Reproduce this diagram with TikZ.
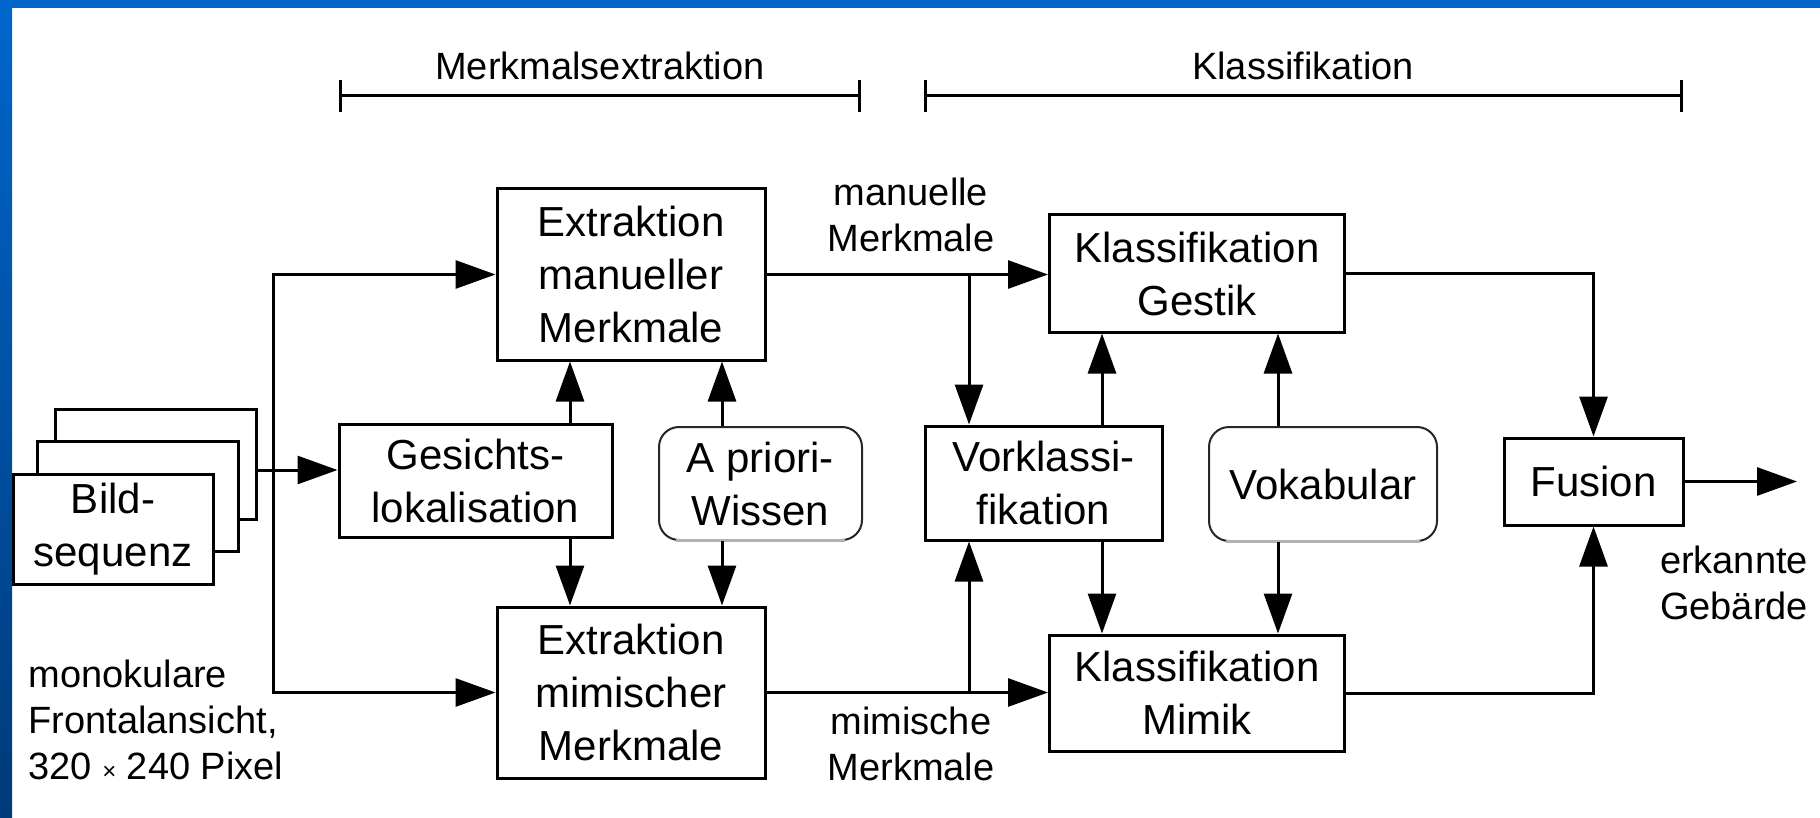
\documentclass[tikz,border=0pt]{standalone}
\usepackage{fontspec}
\setmainfont{Liberation Sans}
\usetikzlibrary{arrows.meta}
\definecolor{folienblau}{HTML}{0066CC}
\definecolor{folienblaudunkel}{HTML}{003A78}

\begin{document}
\begin{tikzpicture}[x=0.5pt, y=-0.5pt,
    box/.style={draw, line width=1.5pt, fill=white, align=center, inner sep=0pt,
                font=\fontsize{21}{26.5}\selectfont},
    rbox/.style={box, draw=black!85, line width=1pt, rounded corners=10pt},
    lbl/.style={align=center, inner sep=0pt, font=\fontsize{19}{23}\selectfont},
    pfeil/.style={-{Triangle[length=20pt,width=14pt]}, line width=1.5pt},
    klammer/.style={{Bar[width=16pt]}-{Bar[width=16pt]}, line width=1.5pt}]

  \useasboundingbox (0,0) rectangle (1820,818);
  % Folienrahmen
  \fill[folienblau] (0,0) rectangle (1820,8);
  \shade[top color=folienblau, bottom color=folienblaudunkel] (0,0) rectangle (12,818);

  % Phasen oben
  \node[lbl] (merkex) at (600,66) {Merkmalsextraktion};
  \node[lbl] (klass) at (1303,66) {Klassifikation};
  \coordinate (mx1) at (339,96); \coordinate (mx2) at (861,96);
  \coordinate (kl1) at (924,96); \coordinate (kl2) at (1683,96);
  \draw[klammer] (mx1) -- (mx2);
  \draw[klammer] (kl1) -- (kl2);

  % Bildsequenz
  \foreach \n/\x/\y in {3/155.5/464, 2/137.5/496.5}
    \node[box, minimum width=100.5pt, minimum height=55pt] (bild\n) at (\x,\y) {};
  \node[box, minimum width=100pt, minimum height=55pt] (bild1) at (113,529) {Bild-\\sequenz};
  \node[lbl, anchor=west, align=left] (mono) at (28,720) {monokulare\\Frontalansicht,\\320 {\fontsize{12}{12}\selectfont ×} 240 Pixel};

  % Merkmalsextraktion
  \node[box, minimum width=136.5pt, minimum height=56.5pt] (gesicht) at (475.5,480.5) {Gesichts-\\lokalisation};
  \node[rbox, minimum width=101.5pt, minimum height=56.5pt] (apriori) at (760.5,483.5) {A priori-\\Wissen};
  \node[box, minimum width=134pt, minimum height=85.5pt] (emm) at (631,274.5) {Extraktion\\manueller\\Merkmale};
  \node[box, minimum width=134pt, minimum height=85.5pt] (emim) at (631,692.5) {Extraktion\\mimischer\\Merkmale};

  % Klassifikation
  \node[box, minimum width=147.5pt, minimum height=58.5pt] (kgestik) at (1197,273.5) {Klassifikation\\Gestik};
  \node[box, minimum width=147.5pt, minimum height=58pt] (kmimik) at (1197,693) {Klassifikation\\Mimik};
  \node[box, minimum width=118.5pt, minimum height=57pt] (vorkl) at (1043.5,483) {Vorklassi-\\fikation};
  \node[rbox, minimum width=114pt, minimum height=57pt] (vokab) at (1323,484) {Vokabular};
  \node[box, minimum width=89.5pt, minimum height=43.5pt] (fusion) at (1593.5,481.5) {Fusion};

  \foreach \r in {apriori, vokab}
    \draw[gray!60, line width=1.6pt] ([xshift=9pt,yshift=0.4pt]\r.south west) -- ([xshift=-9pt,yshift=0.4pt]\r.south east);

  \node[lbl] (mmerk) at (911,215) {manuelle\\Merkmale};
  \node[lbl] (mimerk) at (911,744) {mimische\\Merkmale};
  \node[lbl] (erkannt) at (1734,583) {erkannte\\Gebärde};

  % Verbindungen
  \coordinate (bus) at (273,470);
  \coordinate (gl) at (570,0); \coordinate (ap) at (722,0);
  \coordinate (vk) at (1102,0); \coordinate (vb) at (1278,0);
  \coordinate (tap) at (969,0);
  \coordinate (aus) at (1797,481.5);

  \draw[pfeil] (bild3.east |- bus) -- (gesicht.west |- bus);
  \draw[pfeil] (bus) |- (emm.west);
  \draw[pfeil] (bus) |- (emim.west);
  \foreach \quelle/\sx/\oben/\unten in {gesicht/gl/emm/emim, apriori/ap/emm/emim,
                                        vorkl/vk/kgestik/kmimik, vokab/vb/kgestik/kmimik}
  {\draw[pfeil] (\quelle.north -| \sx) -- (\oben.south -| \sx);
   \draw[pfeil] (\quelle.south -| \sx) -- (\unten.north -| \sx);
  };
  \draw[pfeil] (emm.east) -- (emm.east -| kgestik.west);
  \draw[pfeil] (emim.east) -- (emim.east -| kmimik.west);
  \draw[pfeil] (emm.east -| tap) -- (vorkl.north -| tap);
  \draw[pfeil] (emim.east -| tap) -- (vorkl.south -| tap);
  \draw[pfeil] (kgestik.east) -| (fusion.north);
  \draw[pfeil] (kmimik.east) -| (fusion.south);
  \draw[pfeil] (fusion.east) -- (aus);
\end{tikzpicture}
\end{document}
